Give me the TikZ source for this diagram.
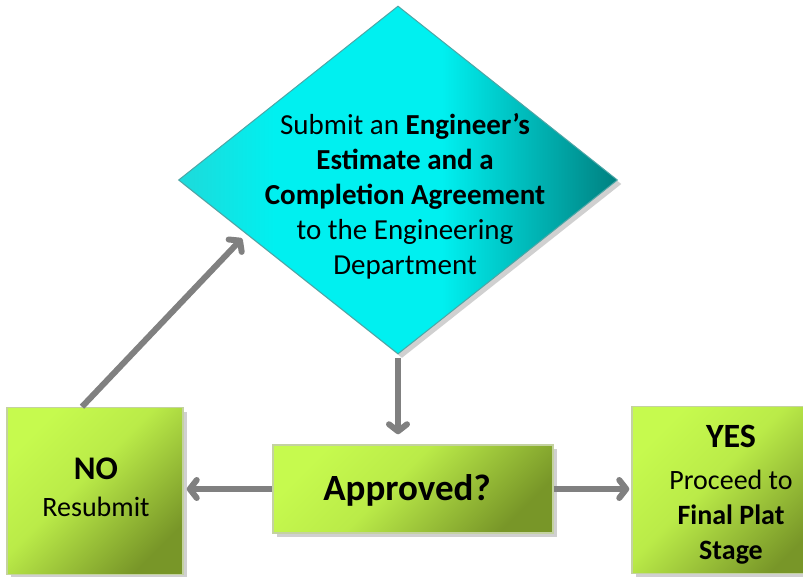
\documentclass[tikz,border=0pt]{standalone}
\usepackage{fontspec}
\setmainfont{Carlito}
\usetikzlibrary{shapes.geometric,arrows.meta,shadows,calc}
\definecolor{limelight}{RGB}{198,250,78}
\definecolor{limedark}{RGB}{120,150,40}
\definecolor{cyanbright}{RGB}{0,240,240}
\definecolor{cyanleft}{RGB}{30,218,218}
\definecolor{tealdark}{RGB}{0,128,128}
\definecolor{arrowgray}{RGB}{128,128,128}
\definecolor{boxedge}{RGB}{196,210,160}
\pgfdeclarehorizontalshading{diamshade}{100bp}{color(0bp)=(cyanleft); color(25bp)=(cyanleft); color(36bp)=(cyanbright); color(55bp)=(cyanbright); color(75bp)=(tealdark); color(100bp)=(tealdark)}
\pgfdeclarehorizontalshading{limeshade}{100bp}{color(0bp)=(limelight); color(25bp)=(limelight); color(45bp)=(limelight!85!limedark); color(75bp)=(limedark); color(100bp)=(limedark)}
\tikzset{
  greenbox/.style={rectangle, draw=boxedge, line width=1.5pt,
    shading=limeshade, shading angle=-45,
    drop shadow={shadow xshift=4pt, shadow yshift=-4pt, opacity=0.3, fill=black!60},
    inner sep=0pt},
  decision/.style={diamond, draw=tealdark!70, line width=1pt,
    shading=diamshade,
    drop shadow={shadow xshift=4pt, shadow yshift=-4pt, opacity=0.3, fill=black!60},
    inner sep=0pt},
  flow/.style={draw=arrowgray, line width=6pt,
    -{Straight Barb[length=7pt,width=18pt,round]}},
  txt/.style={align=center, text=black, inner sep=0pt}
}
\begin{document}
\begin{tikzpicture}[x=1pt,y=-1pt]
\path[use as bounding box, fill=white] (0,0) rectangle (803,577);
% shapes
\node[decision, minimum width=439pt, minimum height=348pt] (d) at (398,180) {};
\node[txt, font=\fontsize{29}{35}\selectfont] (dt) at (405,196)
  {Submit an \textbf{Engineer’s}\\ \textbf{Estimate and a}\\ \textbf{Completion Agreement}\\ to the Engineering\\ Department};
\node[greenbox, minimum width=280pt, minimum height=88pt] (ap) at (413,489) {};
\node[txt, font=\fontsize{37}{40}\selectfont\bfseries] (apt) at (407,490) {Approved?};
\node[greenbox, minimum width=176pt, minimum height=167pt] (no) at (95,491) {};
\node[txt, font=\fontsize{28}{37}\selectfont] (not) at (96,487) {{\fontsize{33}{37}\selectfont\bfseries NO}\\ Resubmit};
\node[greenbox, minimum width=190pt, minimum height=167pt] (yes) at (727,490) {};
\node[txt, font=\fontsize{28}{35}\selectfont] (yest) at (731,495)
  {{\fontsize{34}{35}\selectfont\bfseries YES}\\[7pt] Proceed to\\ \textbf{Final Plat}\\ \textbf{Stage}};
% connectors
\coordinate (dtarget) at ($(d.west)!0.31!(d.south)$);
\draw[flow, shorten >=6pt] ([xshift=-13pt]no.north) -- (dtarget);
\draw[flow, shorten <=3pt, shorten >=10pt] (d.south) -- (ap.north -| d.south);
\draw[flow, shorten >=3pt] (ap.west) -- (no.east |- ap.west);
\draw[flow, shorten >=2pt] (ap.east) -- (yes.west |- ap.east);
\end{tikzpicture}
\end{document}
